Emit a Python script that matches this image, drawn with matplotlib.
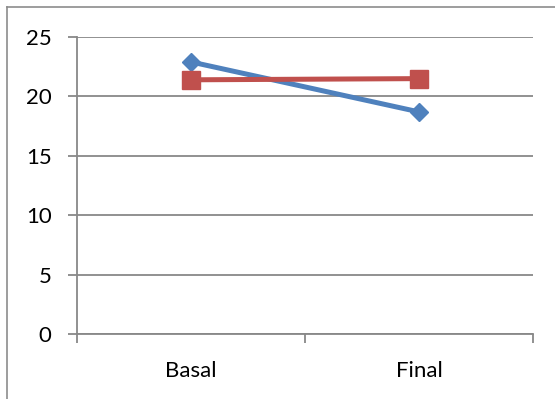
import matplotlib
matplotlib.use("Agg")
import matplotlib.pyplot as plt
from matplotlib.lines import Line2D
from matplotlib.ticker import FixedLocator

categories = ["Basal", "Final"]
series_blue = [22.9, 18.7]
series_red = [21.4, 21.5]
y_ticks = [0, 5, 10, 15, 20, 25]

plt.rcParams["font.family"] = ["Lato", "DejaVu Sans"]

W, H = 555, 399
fig = plt.figure(figsize=(W / 100, H / 100), dpi=100)
ax = fig.add_axes([77.3 / W, (H - 334.3) / H, (533 - 77.3) / W, (334.3 - 37) / H])

x = list(range(len(categories)))
grid_col = "#888888"

ax.set_xlim(-0.5, len(categories) - 0.5)
ax.set_ylim(0, 25)
ax.set_yticks(y_ticks)
ax.yaxis.grid(True, color=grid_col, linewidth=1.3)
ax.set_axisbelow(True)

ax.plot(x, series_blue, color="#4F81BD", linewidth=3.6, marker="D",
        markersize=9.5, markeredgewidth=1, solid_capstyle="round", zorder=3)
ax.plot(x, series_red, color="#C0504D", linewidth=3.6, marker="s",
        markersize=13.5, markeredgewidth=1, solid_capstyle="round", zorder=3)

for s in ["top", "right"]:
    ax.spines[s].set_visible(False)
for s in ["left", "bottom"]:
    ax.spines[s].set_color(grid_col)
    ax.spines[s].set_linewidth(1.3)

ax.set_xticks(x)
ax.set_xticklabels(categories)
ax.xaxis.set_minor_locator(FixedLocator([i - 0.5 for i in range(len(categories) + 1)]))
ax.tick_params(axis="x", which="major", length=0, pad=19, labelsize=16)
ax.tick_params(axis="x", which="minor", length=6.3, width=1.3, color=grid_col, direction="out")
ax.tick_params(axis="y", length=6.5, width=1.3, color=grid_col, direction="out",
               pad=12, labelsize=16)

# frame around the chart area
fig.add_artist(Line2D([7.3 / W, 7.3 / W], [0, 1 - 7.3 / H], transform=fig.transFigure,
                      color="#8c8c8c", linewidth=1.2))
fig.add_artist(Line2D([7.3 / W, 1], [1 - 7.3 / H, 1 - 7.3 / H], transform=fig.transFigure,
                      color="#8c8c8c", linewidth=1.2))

fig.savefig("out.png", dpi=100)
